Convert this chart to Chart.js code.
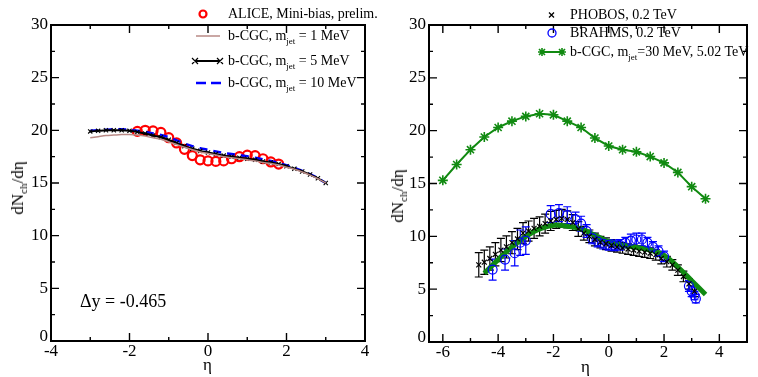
<!DOCTYPE html>
<html>
<head>
<meta charset="utf-8">
<script src="https://cdn.jsdelivr.net/npm/chart.js@4.4.0/dist/chart.umd.min.js"></script>
<style>
  body { margin: 0; background: #fff; font-family: "Liberation Serif", "DejaVu Serif", serif; }
  #wrap { position: relative; width: 758px; height: 377px; overflow: hidden; }
  canvas { position: absolute; top: 0; }
  .lab { position: absolute; white-space: nowrap; color: #000; font-size: 14px; line-height: 1; }
  .lab sub { font-size: 9px; position: relative; top: 4px; vertical-align: baseline; }
  .lab svg { position: absolute; left: 0; top: 0; overflow: visible; }
  .ytitle { position: absolute; white-space: nowrap; font-size: 17px; transform: translate(-50%, -50%) rotate(-90deg); }
  .ytitle sub { font-size: 11px; position: relative; top: 4px; vertical-align: baseline; }
</style>
</head>
<body>
<div id="wrap">
  <canvas id="left" width="379" height="377" style="left:0"></canvas>
  <canvas id="right" width="379" height="377" style="left:379px"></canvas>

  <!-- left legend -->
  <div class="lab" style="left:228px;top:7px">ALICE, Mini-bias, prelim.
    <svg width="1" height="1"><circle cx="-25" cy="7" r="3.5" fill="none" stroke="#f00" stroke-width="2.2"/></svg></div>
  <div class="lab" style="left:228px;top:29px">b-CGC, m<sub>jet</sub> = 1 MeV
    <svg width="1" height="1"><line x1="-32" y1="7" x2="-8" y2="7" stroke="#b98a86" stroke-width="1.5"/></svg></div>
  <div class="lab" style="left:228px;top:54px">b-CGC, m<sub>jet</sub> = 5 MeV
    <svg width="1" height="1"><line x1="-33" y1="7" x2="-8" y2="7" stroke="#000" stroke-width="2"/><path d="M-36 4 l6 6 M-36 10 l6 -6 M-11 4 l6 6 M-11 10 l6 -6" stroke="#000" stroke-width="1.2"/></svg></div>
  <div class="lab" style="left:228px;top:76px">b-CGC, m<sub>jet</sub> = 10 MeV
    <svg width="1" height="1"><line x1="-32" y1="7" x2="-7" y2="7" stroke="#0000ff" stroke-width="2.5" stroke-dasharray="10,5"/></svg></div>
  <div class="lab" style="left:80px;top:292px;font-size:18px">&Delta;y = -0.465</div>

  <!-- right legend -->
  <div class="lab" style="left:570px;top:8px">PHOBOS, 0.2 TeV
    <svg width="1" height="1"><path d="M-21 4.5 l5 5 M-21 9.5 l5 -5" stroke="#000" stroke-width="1.3"/></svg></div>
  <div class="lab" style="left:570px;top:26px">BRAHMS, 0.2 TeV
    <svg width="1" height="1"><circle cx="-18" cy="7" r="4" fill="none" stroke="#0000ff" stroke-width="1.3"/></svg></div>
  <div class="lab" style="left:570px;top:45px">b-CGC, m<sub>jet</sub>=30 MeV, 5.02 TeV
    <svg width="1" height="1"><line x1="-28" y1="7" x2="-8" y2="7" stroke="#118a11" stroke-width="2"/>
      <g stroke="#118a11" stroke-width="1.6"><path d="M-32 7 h8 M-28 3 v8 M-31 4 l6 6 M-31 10 l6 -6"/><path d="M-12 7 h8 M-8 3 v8 M-11 4 l6 6 M-11 10 l6 -6"/></g></svg></div>

  <!-- axis titles -->
  <div class="ytitle" style="left:18px;top:188px">dN<sub>ch</sub>/d&eta;</div>
  <div class="ytitle" style="left:398px;top:196px">dN<sub>ch</sub>/d&eta;</div>
  <div class="lab" style="left:203px;top:356px;font-size:17px">&eta;</div>
  <div class="lab" style="left:581px;top:358px;font-size:17px">&eta;</div>
</div>

<script>
  // ---- tick values ----
  const yMajor = [0, 5, 10, 15, 20, 25, 30];
  const yMinor = [2.5, 7.5, 12.5, 17.5, 22.5, 27.5];
  const leftXMajor = [-4, -2, 0, 2, 4];
  const leftXMinor = [-3, -1, 1, 3];
  const rightXMajor = [-6, -4, -2, 0, 2, 4];
  const rightXMinor = [-5, -3, -1, 1, 3, 5];

  // ---- left panel: p+Pb 5.02 TeV ----
  const etaModel = [-3, -2.8, -2.6, -2.4, -2.2, -2, -1.8, -1.6, -1.4, -1.2, -1, -0.8, -0.6, -0.4, -0.2, 0,
                    0.2, 0.4, 0.6, 0.8, 1, 1.2, 1.4, 1.6, 1.8, 2, 2.2, 2.4, 2.6, 2.8, 3];
  const cgc1 = [19.3, 19.4, 19.5, 19.55, 19.6, 19.6, 19.55, 19.45, 19.3, 19.15, 18.9, 18.65, 18.4, 18.15, 17.95, 17.8,
                17.65, 17.5, 17.4, 17.3, 17.2, 17.1, 16.95, 16.85, 16.7, 16.5, 16.3, 16.05, 15.75, 15.4, 15.0];
  const cgc5 = [19.9, 19.95, 20.0, 20.0, 20.0, 19.95, 19.85, 19.7, 19.5, 19.35, 19.1, 18.8, 18.5, 18.25, 18.05, 17.9,
                17.75, 17.6, 17.5, 17.4, 17.3, 17.2, 17.05, 16.95, 16.8, 16.6, 16.35, 16.1, 15.8, 15.45, 15.0];
  const cgc10 = [19.95, 20.0, 20.05, 20.1, 20.1, 20.05, 19.95, 19.85, 19.7, 19.55, 19.35, 19.05, 18.75, 18.5, 18.3, 18.15,
                 18.0, 17.85, 17.75, 17.65, 17.55, 17.4, 17.25, 17.1, 16.9, 16.7, 16.45, 16.15, 15.85, 15.45, 15.0];
  const etaAlice = [-1.8, -1.6, -1.4, -1.2, -1, -0.8, -0.6, -0.4, -0.2, 0, 0.2, 0.4, 0.6, 0.8, 1, 1.2, 1.4, 1.6, 1.8];
  const alice = [19.9, 20.0, 19.95, 19.8, 19.3, 18.8, 18.2, 17.6, 17.2, 17.1, 17.05, 17.1, 17.3, 17.5, 17.65, 17.6, 17.3, 17.0, 16.8];

  // ---- right panel: d+Au 0.2 TeV and 5.02 TeV prediction ----
  const etaPhobos = [-4.7, -4.5, -4.3, -4.1, -3.9, -3.7, -3.5, -3.3, -3.1, -2.9, -2.7, -2.5, -2.3, -2.1, -1.9, -1.7,
                     -1.5, -1.3, -1.1, -0.9, -0.7, -0.5, -0.3, -0.1, 0.1, 0.3, 0.5, 0.7, 0.9, 1.1, 1.3, 1.5, 1.7,
                     1.9, 2.1, 2.3, 2.5, 2.7, 2.9, 3.1];
  const phobos = [7.3, 7.55, 7.9, 8.3, 8.7, 9.0, 9.4, 9.75, 10.3, 10.5, 10.75, 10.95, 11.2, 11.45, 11.6, 11.7,
                  11.6, 11.3, 10.7, 10.3, 10.0, 9.7, 9.45, 9.3, 9.15, 9.0, 8.9, 8.8, 8.7, 8.6, 8.5, 8.4, 8.25,
                  7.9, 7.6, 7.3, 6.8, 6.2, 5.5, 4.8];
  const phobosErr = [1.15, 1.15, 1.1, 1.1, 1.1, 1.05, 1.05, 1.0, 1.0, 0.95, 0.95, 0.9, 0.9, 0.9, 0.85, 0.85,
                     0.8, 0.75, 0.7, 0.65, 0.6, 0.6, 0.55, 0.55, 0.55, 0.5, 0.5, 0.5, 0.5, 0.5, 0.5, 0.5, 0.5,
                     0.5, 0.5, 0.5, 0.5, 0.5, 0.5, 0.5];
  const etaBrahms = [-4.2, -3.75, -3.4, -3.2, -3.0, -2.1, -1.8, -1.5, -1.2, -1.0, -0.8, -0.6, -0.4, -0.2, 0, 0.2,
                     0.4, 0.6, 0.8, 1.0, 1.2, 1.4, 1.6, 1.8, 2.0, 2.9, 3.0, 3.1, 3.15];
  const brahms = [6.85, 7.8, 8.4, 9.4, 9.6, 12.1, 12.2, 12.0, 11.6, 11.2, 10.5, 9.8, 9.5, 9.3, 9.2, 9.15,
                  9.2, 9.4, 9.6, 9.7, 9.7, 9.4, 9.0, 8.6, 8.1, 5.3, 4.8, 4.4, 4.1];
  const brahmsErr = [1.0, 1.0, 1.2, 1.2, 1.3, 0.8, 0.8, 0.8, 0.7, 0.7, 0.6, 0.5, 0.5, 0.5, 0.5, 0.5,
                     0.5, 0.5, 0.6, 0.6, 0.6, 0.5, 0.5, 0.5, 0.5, 0.5, 0.5, 0.4, 0.4];
  const etaCgc02 = [-4.5, -4, -3.5, -3, -2.5, -2, -1.5, -1, -0.5, 0, 0.5, 1, 1.5, 2, 2.5, 3, 3.5];
  const cgc02 = [6.5, 7.8, 9.0, 10.0, 10.7, 11.05, 10.95, 10.7, 10.1, 9.5, 9.15, 8.95, 8.7, 8.2, 7.1, 5.8, 4.5];
  const etaCgc502 = [-6, -5.5, -5, -4.5, -4, -3.5, -3, -2.5, -2, -1.5, -1, -0.5, 0, 0.5, 1, 1.5, 2, 2.5, 3, 3.5];
  const cgc502 = [15.3, 16.8, 18.2, 19.4, 20.3, 20.9, 21.35, 21.6, 21.5, 20.9, 20.3, 19.3, 18.55, 18.2, 18.0, 17.55,
                  16.95, 16.05, 14.7, 13.55];

  const pts = (xs, ys) => xs.map((x, i) => ({ x: x, y: ys[i] }));

  // frame, inward ticks on all sides, tick labels
  const framePlugin = {
    id: 'frame',
    afterDraw(chart, args, o) {
      const { ctx, chartArea: a, scales: { x, y } } = chart;
      ctx.save();
      ctx.strokeStyle = '#000';
      ctx.lineWidth = 1.4;
      const tick = (px, len, vertical) => {
        ctx.beginPath();
        if (vertical) {
          ctx.moveTo(px, a.bottom); ctx.lineTo(px, a.bottom - len);
          ctx.moveTo(px, a.top); ctx.lineTo(px, a.top + len);
        } else {
          ctx.moveTo(a.left, px); ctx.lineTo(a.left + len, px);
          ctx.moveTo(a.right, px); ctx.lineTo(a.right - len, px);
        }
        ctx.stroke();
      };
      o.xMajor.forEach(v => tick(x.getPixelForValue(v), 8, true));
      o.xMinor.forEach(v => tick(x.getPixelForValue(v), 4, true));
      yMajor.forEach(v => tick(y.getPixelForValue(v), 8, false));
      yMinor.forEach(v => tick(y.getPixelForValue(v), 4, false));
      ctx.lineWidth = 2;
      ctx.strokeRect(a.left, a.top, a.right - a.left, a.bottom - a.top);

      ctx.fillStyle = '#000';
      ctx.font = '17px "Liberation Serif"';
      ctx.textAlign = 'center';
      ctx.textBaseline = 'middle';
      o.xMajor.forEach(v => ctx.fillText(String(v), x.getPixelForValue(v), a.bottom + 11));
      ctx.textAlign = 'right';
      yMajor.forEach(v => ctx.fillText(String(v), a.left - 3, y.getPixelForValue(v) - (v === 0 ? 4 : 0)));
      ctx.restore();
    }
  };

  // vertical error bars with caps
  const errorBars = {
    id: 'errorBars',
    beforeDatasetsDraw(chart) {
      const { ctx, scales: { x, y } } = chart;
      chart.data.datasets.forEach(ds => {
        if (!ds.errors) return;
        ctx.save();
        ctx.strokeStyle = ds.borderColor;
        ctx.lineWidth = 1.2;
        ds.data.forEach((p, i) => {
          const px = x.getPixelForValue(p.x);
          const y1 = y.getPixelForValue(p.y - ds.errors[i]);
          const y2 = y.getPixelForValue(p.y + ds.errors[i]);
          ctx.beginPath();
          ctx.moveTo(px, y1); ctx.lineTo(px, y2);
          ctx.moveTo(px - 4, y1); ctx.lineTo(px + 4, y1);
          ctx.moveTo(px - 4, y2); ctx.lineTo(px + 4, y2);
          ctx.stroke();
        });
        ctx.restore();
      });
    }
  };

  function baseOptions(xmin, xmax, pad, xMajor, xMinor) {
    return {
      responsive: false,
      animation: false,
      layout: { padding: pad },
      plugins: { legend: { display: false }, tooltip: { enabled: false }, frame: { xMajor: xMajor, xMinor: xMinor } },
      scales: {
        x: { type: 'linear', min: xmin, max: xmax, display: false },
        y: { type: 'linear', min: 0, max: 30, display: false }
      }
    };
  }

  new Chart(document.getElementById('left'), {
    type: 'line',
    data: {
      datasets: [
        { data: pts(etaModel, cgc1), borderColor: '#b98a86', borderWidth: 1.5, pointRadius: 0, tension: 0.3 },
        { data: pts(etaModel, cgc5), borderColor: '#000', borderWidth: 2, pointStyle: 'crossRot', pointRadius: 3,
          pointBorderWidth: 1.1, pointBorderColor: '#000', tension: 0.3 },
        { data: pts(etaModel, cgc10), borderColor: '#0000ff', borderWidth: 2.5, borderDash: [8, 6], pointRadius: 0, tension: 0.3 },
        { data: pts(etaAlice, alice), borderColor: '#ff0000', showLine: false, pointStyle: 'circle', pointRadius: 4.5,
          pointBorderWidth: 2.2, pointBackgroundColor: 'rgba(0,0,0,0)', pointBorderColor: '#ff0000' }
      ]
    },
    options: baseOptions(-4, 4, { left: 51, right: 14, top: 25, bottom: 36 }, leftXMajor, leftXMinor),
    plugins: [framePlugin]
  });

  new Chart(document.getElementById('right'), {
    type: 'line',
    data: {
      datasets: [
        { data: pts(etaPhobos, phobos), errors: phobosErr, borderColor: '#000', showLine: false, pointStyle: 'crossRot',
          pointRadius: 3.5, pointBorderWidth: 1.2, pointBorderColor: '#000' },
        { data: pts(etaBrahms, brahms), errors: brahmsErr, borderColor: '#0000ff', showLine: false, pointStyle: 'circle',
          pointRadius: 4.5, pointBorderWidth: 1.2, pointBackgroundColor: 'rgba(0,0,0,0)', pointBorderColor: '#0000ff' },
        { data: pts(etaCgc02, cgc02), borderColor: '#118a11', borderWidth: 5, pointRadius: 0, tension: 0.4 },
        { data: pts(etaCgc502, cgc502), borderColor: '#118a11', borderWidth: 2, pointStyle: 'star', pointRadius: 5,
          pointBorderWidth: 1.6, pointBorderColor: '#118a11', pointBackgroundColor: '#118a11' }
      ]
    },
    options: baseOptions(-6.5, 5, { left: 50, right: 11, top: 25, bottom: 35 }, rightXMajor, rightXMinor),
    plugins: [framePlugin, errorBars]
  });
</script>
</body>
</html>
